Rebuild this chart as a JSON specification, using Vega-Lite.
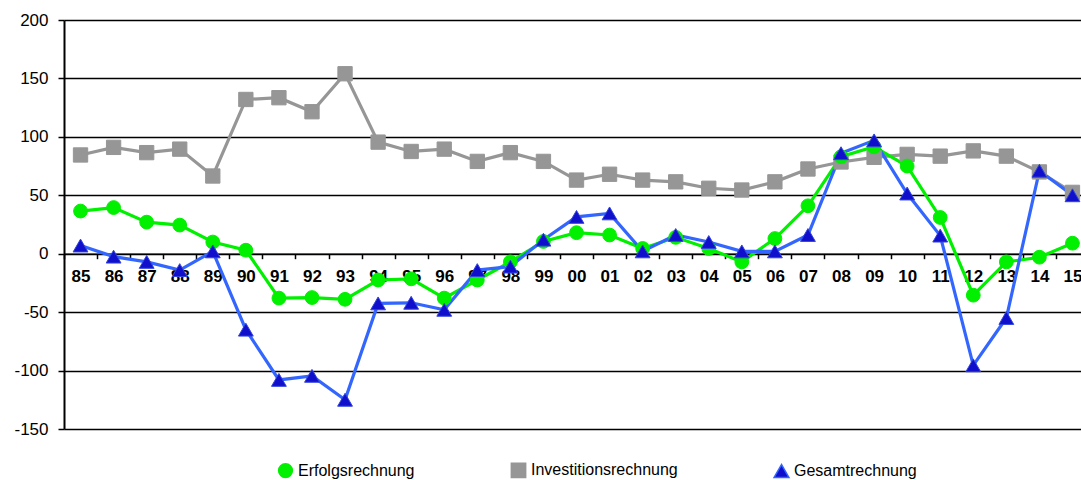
{
  "$schema": "https://vega.github.io/schema/vega-lite/v6.json",
  "width": 1017,
  "height": 409,
  "autosize": {"type": "none"},
  "padding": {"left": 64, "top": 20, "right": 0, "bottom": 51},
  "background": "white",
  "config": {
    "view": {"stroke": null},
    "font": "Liberation Sans"
  },
  "data": {
    "values": [
      {"year": "85", "Erfolgsrechnung": 36.5, "Investitionsrechnung": 84.5, "Gesamtrechnung": 7},
      {"year": "86", "Erfolgsrechnung": 39.5, "Investitionsrechnung": 91, "Gesamtrechnung": -2.5},
      {"year": "87", "Erfolgsrechnung": 27, "Investitionsrechnung": 86.5, "Gesamtrechnung": -7},
      {"year": "88", "Erfolgsrechnung": 24.5, "Investitionsrechnung": 89.5, "Gesamtrechnung": -14},
      {"year": "89", "Erfolgsrechnung": 10, "Investitionsrechnung": 66.5, "Gesamtrechnung": 2},
      {"year": "90", "Erfolgsrechnung": 3, "Investitionsrechnung": 132, "Gesamtrechnung": -65},
      {"year": "91", "Erfolgsrechnung": -38, "Investitionsrechnung": 133.5, "Gesamtrechnung": -108},
      {"year": "92", "Erfolgsrechnung": -37.5, "Investitionsrechnung": 121.5, "Gesamtrechnung": -104.5},
      {"year": "93", "Erfolgsrechnung": -39, "Investitionsrechnung": 154, "Gesamtrechnung": -125},
      {"year": "94", "Erfolgsrechnung": -22.5, "Investitionsrechnung": 95.5, "Gesamtrechnung": -42.5},
      {"year": "95", "Erfolgsrechnung": -21.5, "Investitionsrechnung": 87.5, "Gesamtrechnung": -42},
      {"year": "96", "Erfolgsrechnung": -38, "Investitionsrechnung": 89.5, "Gesamtrechnung": -48},
      {"year": "97", "Erfolgsrechnung": -22.5, "Investitionsrechnung": 79, "Gesamtrechnung": -14},
      {"year": "98", "Erfolgsrechnung": -7, "Investitionsrechnung": 86.5, "Gesamtrechnung": -11},
      {"year": "99", "Erfolgsrechnung": 10.5, "Investitionsrechnung": 79, "Gesamtrechnung": 12},
      {"year": "00", "Erfolgsrechnung": 18, "Investitionsrechnung": 63, "Gesamtrechnung": 31.5},
      {"year": "01", "Erfolgsrechnung": 16, "Investitionsrechnung": 68, "Gesamtrechnung": 34.5},
      {"year": "02", "Erfolgsrechnung": 4.5, "Investitionsrechnung": 63, "Gesamtrechnung": 2},
      {"year": "03", "Erfolgsrechnung": 14, "Investitionsrechnung": 61.5, "Gesamtrechnung": 16},
      {"year": "04", "Erfolgsrechnung": 4.5, "Investitionsrechnung": 56, "Gesamtrechnung": 10},
      {"year": "05", "Erfolgsrechnung": -7, "Investitionsrechnung": 54.5, "Gesamtrechnung": 2},
      {"year": "06", "Erfolgsrechnung": 13, "Investitionsrechnung": 61.5, "Gesamtrechnung": 2},
      {"year": "07", "Erfolgsrechnung": 41, "Investitionsrechnung": 72.5, "Gesamtrechnung": 16},
      {"year": "08", "Erfolgsrechnung": 83, "Investitionsrechnung": 78.5, "Gesamtrechnung": 86},
      {"year": "09", "Erfolgsrechnung": 91.5, "Investitionsrechnung": 82.5, "Gesamtrechnung": 97},
      {"year": "10", "Erfolgsrechnung": 75, "Investitionsrechnung": 85, "Gesamtrechnung": 51.5},
      {"year": "11", "Erfolgsrechnung": 31, "Investitionsrechnung": 83.5, "Gesamtrechnung": 15.5},
      {"year": "12", "Erfolgsrechnung": -35.5, "Investitionsrechnung": 88, "Gesamtrechnung": -95.5},
      {"year": "13", "Erfolgsrechnung": -7, "Investitionsrechnung": 83.5, "Gesamtrechnung": -55},
      {"year": "14", "Erfolgsrechnung": -3, "Investitionsrechnung": 70, "Gesamtrechnung": 71},
      {"year": "15", "Erfolgsrechnung": 9, "Investitionsrechnung": 52.5, "Gesamtrechnung": 50}
    ]
  },
  "transform": [
    {"fold": ["Investitionsrechnung", "Erfolgsrechnung", "Gesamtrechnung"], "as": ["series", "value"]}
  ],
  "encoding": {
    "x": {
      "field": "year",
      "type": "ordinal",
      "sort": null,
      "scale": {"type": "band", "range": [0, 1025], "paddingInner": 0, "paddingOuter": 0},
      "axis": {
        "title": null,
        "offset": -175.3,
        "labelAngle": 0,
        "labelFont": "Liberation Sans",
        "labelFontSize": 17,
        "labelFontWeight": "bold",
        "labelColor": "black",
        "labelPadding": 10,
        "tickBand": "extent",
        "tickColor": "black",
        "tickSize": 5,
        "tickWidth": 1.5,
        "domainColor": "black",
        "domainWidth": 1.5,
        "grid": false
      }
    },
    "y": {
      "field": "value",
      "type": "quantitative",
      "scale": {"domain": [-150, 200], "nice": false, "zero": false},
      "axis": {
        "title": null,
        "values": [-150, -100, -50, 0, 50, 100, 150, 200],
        "labelExpr": "'' + datum.value",
        "labelFont": "Liberation Sans",
        "labelFontSize": 17,
        "labelColor": "black",
        "labelPadding": 10,
        "tickColor": "black",
        "tickSize": 6,
        "tickWidth": 1.5,
        "domainColor": "black",
        "domainWidth": 2,
        "grid": true,
        "gridColor": "black",
        "gridWidth": 1.5,
        "gridOpacity": 1
      }
    }
  },
  "layer": [
    {
      "mark": {"type": "line", "strokeWidth": 3.2},
      "encoding": {
        "color": {
          "field": "series",
          "type": "nominal",
          "scale": {
            "domain": ["Erfolgsrechnung", "Investitionsrechnung", "Gesamtrechnung"],
            "range": ["#00F000", "#969696", "#3366FF"]
          },
          "legend": {
            "title": null,
            "orient": "none",
            "legendX": 213,
            "legendY": 442,
            "direction": "horizontal",
            "columns": 3,
            "columnPadding": 93,
            "padding": 0,
            "labelFont": "Liberation Sans",
            "labelFontSize": 16,
            "labelColor": "black",
            "labelOffset": 4
          }
        },
        "order": {"value": null}
      }
    },
    {
      "mark": {"type": "point", "filled": true, "opacity": 1, "strokeWidth": 1},
      "encoding": {
        "fill": {
          "field": "series",
          "type": "nominal",
          "scale": {
            "domain": ["Erfolgsrechnung", "Investitionsrechnung", "Gesamtrechnung"],
            "range": ["#00F000", "#969696", "#1010CC"]
          },
          "legend": null
        },
        "stroke": {
          "field": "series",
          "type": "nominal",
          "scale": {
            "domain": ["Erfolgsrechnung", "Investitionsrechnung", "Gesamtrechnung"],
            "range": ["#00F000", "#969696", "#3344DD"]
          },
          "legend": null
        },
        "shape": {
          "field": "series",
          "type": "nominal",
          "scale": {
            "domain": ["Erfolgsrechnung", "Investitionsrechnung", "Gesamtrechnung"],
            "range": ["circle", "square", "triangle-up"]
          },
          "legend": null
        },
        "size": {
          "field": "series",
          "type": "nominal",
          "scale": {
            "domain": ["Erfolgsrechnung", "Investitionsrechnung", "Gesamtrechnung"],
            "range": [190, 220, 230]
          },
          "legend": null
        }
      }
    }
  ]
}
